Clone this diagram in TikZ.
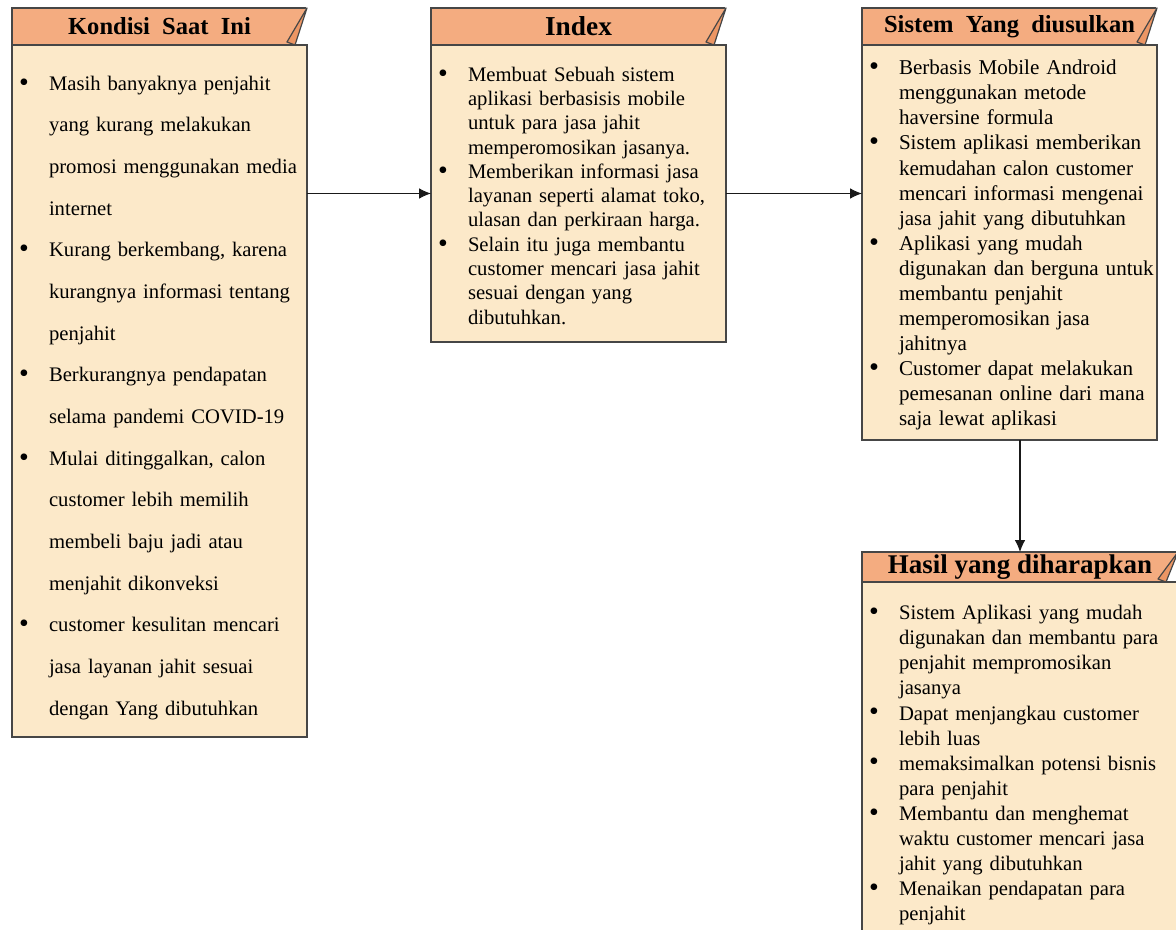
\documentclass[tikz,border=0pt]{standalone}
\usepackage{fontspec}
\setmainfont{Liberation Serif}
\usetikzlibrary{arrows.meta}
\definecolor{hdrfill}{RGB}{244,172,128}
\definecolor{flapfill}{RGB}{236,150,100}
\definecolor{bodyfill}{RGB}{252,233,201}
\definecolor{edge}{RGB}{70,70,70}
\newcommand{\bul}{\makebox[22.5pt][l]{\raisebox{-0.6pt}{\scalebox{1.35}{\textbullet}}}}
\newcommand{\bsp}{\hspace*{22.5pt}}
\begin{document}
\begin{tikzpicture}[x=0.75pt, y=-0.75pt,
  hdr/.style={draw=edge, line width=1pt, fill=hdrfill, anchor=north west, outer sep=0pt, inner sep=0pt, minimum width=221.25pt, minimum height=27.75pt},
  body/.style={draw=edge, line width=1pt, fill=bodyfill, anchor=north west, outer sep=0pt, inner xsep=5.25pt, inner ysep=0pt, minimum width=221.25pt, text width=210.75pt, align=left},
  flap/.style={draw=edge, line width=0.9pt, fill=flapfill, line join=round},
  arr/.style={draw=black!90, line width=0.8pt, -{Latex[length=9pt,width=8pt]}}]
\clip (0,0) rectangle (1176,930);

\node[hdr, font=\bfseries\fontsize{18.4}{20}\selectfont] (kondisih) at (12,8) {Kondisi\ \ Saat\ \ Ini};
\node[hdr, font=\bfseries\fontsize{20.5}{22}\selectfont] (indexh) at (431,8) {Index};
\node[hdr, font=\bfseries\fontsize{18.4}{20}\selectfont] (usulanh) at (862,8) {Sistem\ \ Yang\ \ diusulkan};
\node[hdr, minimum width=237pt, minimum height=22.5pt, font=\bfseries\fontsize{20.25}{22}\selectfont] (hasilh) at (862,552) {Hasil yang diharapkan};

\foreach \h in {kondisih,indexh,usulanh,hasilh}{
  \filldraw[white, line width=1.3pt] (\h.north east) -- (\h.south east) -- ([xshift=-9pt]\h.south east) -- cycle;
  \filldraw[flap] (\h.north east) -- ([xshift=-15pt,yshift=2.25pt]\h.south east) -- ([xshift=-9pt]\h.south east) -- cycle;
}

\node[body, minimum height=519pt, font=\fontsize{15.5}{31.25}\selectfont] (kondisi) at (12,45) {%
\rule{0pt}{21pt}\bul Masih banyaknya penjahit\\
\bsp yang kurang melakukan\\
\bsp promosi menggunakan media\\
\bsp internet\\
\bul Kurang berkembang, karena\\
\bsp kurangnya informasi tentang\\
\bsp penjahit\\
\bul Berkurangnya pendapatan\\
\bsp selama pandemi COVID-19\\
\bul Mulai ditinggalkan, calon\\
\bsp customer lebih memilih\\
\bsp membeli baju jadi atau\\
\bsp menjahit dikonveksi\\
\bul customer kesulitan mencari\\
\bsp jasa layanan jahit sesuai\\
\bsp dengan Yang dibutuhkan};

\node[body, minimum height=222.75pt, font=\fontsize{15.5}{18.2}\selectfont] (index) at (431,45) {%
\rule{0pt}{14pt}\bul Membuat Sebuah sistem\\
\bsp aplikasi berbasisis mobile\\
\bsp untuk para jasa jahit\\
\bsp memperomosikan jasanya.\\
\bul Memberikan informasi jasa\\
\bsp layanan seperti alamat toko,\\
\bsp ulasan dan perkiraan harga.\\
\bul Selain itu juga membantu\\
\bsp customer mencari jasa jahit\\
\bsp sesuai dengan yang\\
\bsp dibutuhkan.};

\node[body, minimum height=296.25pt, font=\fontsize{15.8}{18.8}\selectfont] (usulan) at (862,45) {%
\rule{0pt}{15pt}\bul Berbasis Mobile Android\\
\bsp menggunakan metode\\
\bsp haversine formula\\
\bul Sistem aplikasi memberikan\\
\bsp kemudahan calon customer\\
\bsp mencari informasi mengenai\\
\bsp jasa jahit yang dibutuhkan\\
\bul Aplikasi yang mudah\\
\bsp \mbox{digunakan dan berguna untuk}\\
\bsp membantu penjahit\\
\bsp memperomosikan jasa\\
\bsp jahitnya\\
\bul Customer dapat melakukan\\
\bsp pemesanan online dari mana\\
\bsp saja lewat aplikasi};

\node[body, minimum width=237pt, text width=226.5pt, minimum height=271.5pt, font=\fontsize{15.5}{18.8}\selectfont] (hasil) at (862,582) {%
\rule{0pt}{14pt}\bul Sistem Aplikasi yang mudah\\
\bsp digunakan dan membantu para\\
\bsp penjahit mempromosikan\\
\bsp jasanya\\
\bul Dapat menjangkau customer\\
\bsp lebih luas\\
\bul memaksimalkan potensi bisnis\\
\bsp para penjahit\\
\bul Membantu dan menghemat\\
\bsp waktu customer mencari jasa\\
\bsp jahit yang dibutuhkan\\
\bul Menaikan pendapatan para\\
\bsp penjahit};

\draw[arr] (kondisi.east |- index.west) -- (index.west);
\draw[arr] (index.east) -- (usulan.west |- index.east);
\draw[arr] (usulan.south -| hasilh.north) -- (hasilh.north);
\end{tikzpicture}
\end{document}
